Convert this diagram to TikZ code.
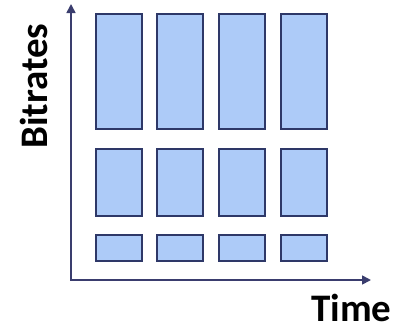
\documentclass[tikz,border=0pt]{standalone}
\usepackage{fontspec}
\setmainfont{Carlito}
\usetikzlibrary{arrows.meta}
\definecolor{boxfill}{HTML}{ADCBF8}
\definecolor{boxline}{HTML}{2E3868}
\definecolor{axisline}{HTML}{3A3D6E}
\tikzset{
  bar/.style={draw=boxline, fill=boxfill, line width=1.6pt, rectangle, inner sep=0pt, anchor=north west},
  axis/.style={draw=axisline, line width=1.6pt, -{Triangle[length=9pt,width=9pt]}},
  lbl/.style={font=\fontsize{39}{39}\selectfont\bfseries, inner sep=0pt}
}
\begin{document}
\begin{tikzpicture}[x=1pt,y=-1pt]
\useasboundingbox (0,0) rectangle (404,330);
% columns
\foreach \c/\x in {1/95,2/156,3/218,4/280}{
  \node[bar, minimum width=46pt, minimum height=115pt] (top\c) at (\x,13) {};
  \node[bar, minimum width=46pt, minimum height=67pt] (mid\c) at (\x,148) {};
  \node[bar, minimum width=46pt, minimum height=26pt] (bot\c) at (\x,234) {};
}
\coordinate (origin) at (71,280);
\coordinate (ytip) at (71,4);
\coordinate (xtip) at (371,280);
\draw[axis] ([yshift=-0.8pt]origin) -- (ytip);
\draw[axis] ([xshift=-0.8pt]origin) -- (xtip);
\node[lbl, anchor=base west, rotate=90] (ylab) at (47,149) {Bitrates};
\node[lbl, anchor=base west] (xlab) at (311,321) {Time};
\end{tikzpicture}
\end{document}
